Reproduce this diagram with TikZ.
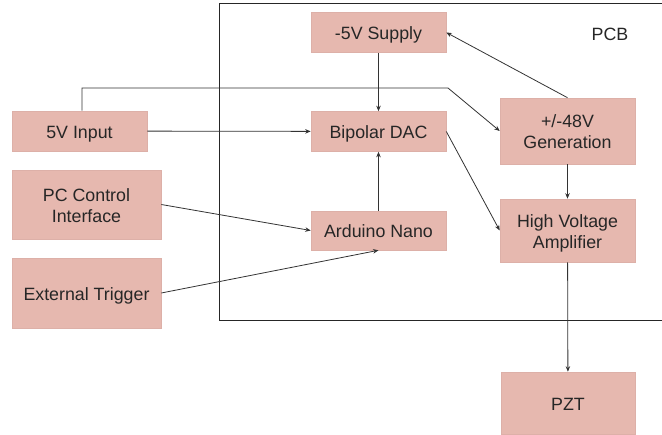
\documentclass[tikz,border=0pt]{standalone}
\usepackage{fontspec}
\setmainfont{Liberation Sans}
\usetikzlibrary{arrows.meta}
\definecolor{boxc}{HTML}{E6B8AF}
\definecolor{boxline}{HTML}{DDB0A8}
\definecolor{conn}{HTML}{333333}
\newcommand{\boxtext}[1]{\raisebox{-3pt}[\height][\depth]{\begin{tabular}{@{}c@{}}#1\end{tabular}}}
\begin{document}
\begin{tikzpicture}[x=1pt,y=-1pt,
  blk/.style={rectangle,fill=boxc,draw=boxline,line width=0.6pt,inner sep=0pt,
    font=\fontsize{17.8}{21}\selectfont,text=black!85},
  conn/.style={draw=conn,line width=0.8pt},
  arr/.style={conn,-{Stealth[length=5.5pt,width=4.5pt]}}]
\useasboundingbox (0,0) rectangle (662,435);
% PCB outline
\draw[line width=0.9pt,black!85] (662,3) -- (219,3) -- (219,320) -- (662,320);
\node[font=\fontsize{17.8}{21}\selectfont,text=black!85] (pcb) at (610,33) {\boxtext{PCB}};
% blocks
\node[blk,minimum width=135,minimum height=40] (sup) at (378.5,32.5) {\boxtext{-5V Supply}};
\node[blk,minimum width=135,minimum height=40] (dac) at (378.5,131.5) {\boxtext{Bipolar DAC}};
\node[blk,minimum width=135,minimum height=39] (ard) at (378.5,230.5) {\boxtext{Arduino Nano}};
\node[blk,minimum width=135,minimum height=40] (in5) at (79.5,131) {\boxtext{5V Input}};
\node[blk,minimum width=149,minimum height=69] (pc) at (86.5,204.5) {\boxtext{PC Control\\Interface}};
\node[blk,minimum width=149,minimum height=70] (ext) at (86.5,293) {\boxtext{External Trigger}};
\node[blk,minimum width=135,minimum height=66] (gen) at (567.5,131) {\boxtext{+/-48V\\Generation}};
\node[blk,minimum width=135,minimum height=63] (hva) at (567.5,230.5) {\boxtext{High Voltage\\Amplifier}};
\node[blk,minimum width=134,minimum height=62] (pzt) at (568,403) {\boxtext{PZT}};
% connectors
\coordinate (j1) at (82,88);
\coordinate (j2) at (448,88);
\draw[arr] (in5) -- (dac);
\draw[arr] (sup) -- (dac);
\draw[arr] (ard) -- (dac);
\draw[arr] (in5.north -| j1) -- (j1) -- (j2) -- (gen.west);
\draw[arr] (gen.north) -- (sup.east);
\draw[arr] (dac.east) -- (hva.west);
\draw[arr] (gen) -- (hva);
\draw[arr] (hva) -- (pzt);
\draw[arr] (pc.east) -- (ard.west);
\draw[arr] (ext.east) -- (ard.south);
\end{tikzpicture}
\end{document}
